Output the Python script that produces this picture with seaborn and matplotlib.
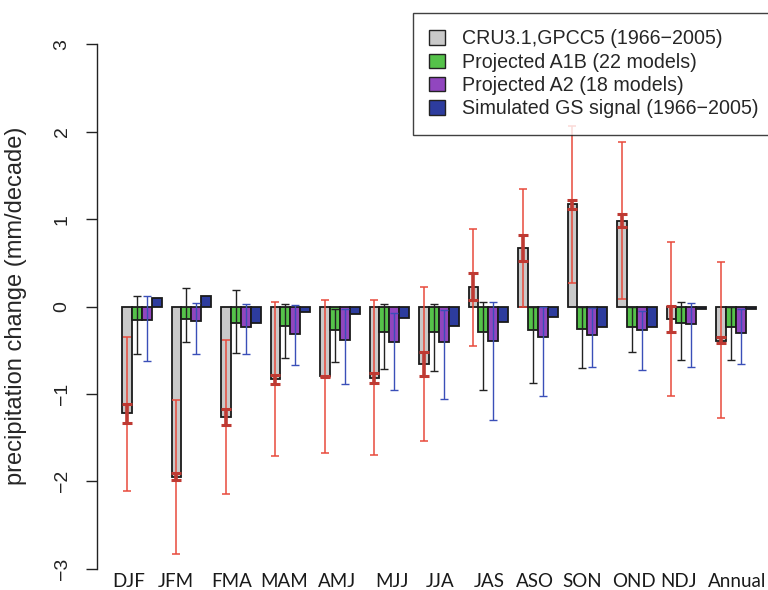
import numpy as np
import pandas as pd
import matplotlib
matplotlib.use("Agg")
import matplotlib.pyplot as plt
import seaborn as sns

seasons = ["DJF", "JFM", "FMA", "MAM", "AMJ", "MJJ", "JJA", "JAS", "ASO", "SON", "OND", "NDJ", "Annual"]
series = ["CRU3.1,GPCC5 (1966\u22122005)", "Projected A1B (22 models)",
          "Projected A2 (18 models)", "Simulated GS signal (1966\u22122005)"]

obs = [-1.22, -1.95, -1.26, -0.83, -0.80, -0.82, -0.66, 0.22, 0.665, 1.17, 0.98, -0.14, -0.39]
a1b = [-0.155, -0.143, -0.19, -0.22, -0.27, -0.29, -0.295, -0.29, -0.27, -0.26, -0.24, -0.185, -0.24]
a2 = [-0.155, -0.16, -0.24, -0.315, -0.38, -0.41, -0.41, -0.39, -0.35, -0.33, -0.27, -0.20, -0.30]
gs = [0.094, 0.12, -0.185, -0.06, -0.086, -0.135, -0.22, -0.18, -0.115, -0.23, -0.23, -0.03, -0.03]

# observed outer range (light red)
obs_lo = [-2.11, -2.83, -2.14, -1.71, -1.68, -1.70, -1.54, -0.45, 0.00, 0.27, 0.09, -1.02, -1.28]
obs_hi = [-0.35, -1.07, -0.38, 0.055, 0.075, 0.07, 0.22, 0.89, 1.34, 2.06, 1.88, 0.74, 0.505]
# observed inner range (dark red)
obs_in_lo = [-1.33, -1.99, -1.35, -0.89, -0.81, -0.87, -0.80, 0.07, 0.52, 1.12, 0.91, -0.295, -0.42]
obs_in_hi = [-1.12, -1.91, -1.17, -0.78, -0.79, -0.76, -0.52, 0.38, 0.82, 1.22, 1.055, 0.01, -0.345]
# A1B model range (black)
a1b_lo = [-0.54, -0.41, -0.53, -0.59, -0.63, -0.71, -0.74, -0.96, -0.88, -0.70, -0.52, -0.61, -0.61]
a1b_hi = [0.12, 0.21, 0.19, 0.03, -0.03, 0.03, 0.03, 0.05, 0.0, 0.0, 0.0, 0.05, -0.01]
# A2 model range (blue)
a2_lo = [-0.62, -0.54, -0.54, -0.67, -0.89, -0.955, -1.06, -1.30, -1.02, -0.69, -0.73, -0.69, -0.66]
a2_hi = [0.12, 0.04, 0.025, 0.02, -0.03, -0.07, -0.04, 0.055, 0.0, -0.02, -0.055, 0.035, -0.03]

yticks = [-3, -2, -1, 0, 1, 2, 3]
colors = ["#c9c9c9", "#55c24a", "#9146bf", "#2d3c9e"]

df = pd.DataFrame({
    "season": np.repeat(seasons, 4),
    "series": series * len(seasons),
    "value": np.ravel(np.column_stack([obs, a1b, a2, gs])),
})

sns.set_style("white")
plt.rcParams["font.family"] = ["Liberation Sans", "DejaVu Sans"]

fig = plt.figure(figsize=(7.68, 5.90), dpi=100)
ax = fig.add_axes([97 / 768, 1 - 574 / 590, 671 / 768, (574 - 23.3) / 590])

sns.barplot(data=df, x="season", y="value", hue="series", order=seasons,
            hue_order=series, palette=colors, width=0.8, dodge=True,
            edgecolor="#1a1a1a", linewidth=1.3, saturation=1, ax=ax, legend=True)

def centers(container):
    return np.array([p.get_x() + p.get_width() / 2 for p in container.patches])

def rng(ax, x, lo, hi, color, lw, cap, capthick):
    lo = np.array(lo); hi = np.array(hi)
    mid = (lo + hi) / 2
    half = (hi - lo) / 2
    ax.errorbar(x, mid, yerr=half, fmt="none", ecolor=color, elinewidth=lw,
                capsize=cap, capthick=capthick, zorder=5)

x_obs = centers(ax.containers[0])
x_a1b = centers(ax.containers[1])
x_a2 = centers(ax.containers[2])

rng(ax, x_obs, obs_lo, obs_hi, "#e84a3c", 1.1, 3.0, 1.1)
rng(ax, x_obs, obs_in_lo, obs_in_hi, "#bf3a33", 2.6, 3.5, 2.2)
rng(ax, x_a1b, a1b_lo, a1b_hi, "#222222", 1.0, 3.0, 1.0)
rng(ax, x_a2, a2_lo, a2_hi, "#3a4fb8", 1.0, 3.0, 1.0)

ax.set_xlim(-0.905, 12.65)
ax.set_ylim(-3.06, 3.24)

for s in ["top", "right", "bottom"]:
    ax.spines[s].set_visible(False)
ax.spines["left"].set_bounds(-3, 3)
ax.spines["left"].set_linewidth(1.0)
ax.spines["left"].set_color("#222222")

ax.set_yticks(yticks)
ax.set_yticklabels([str(t).replace("-", "\u2212") for t in yticks], rotation=90,
                   va="center", fontsize=14)
ax.tick_params(axis="y", direction="out", length=8, width=1.0, pad=11, colors="#222222",
               left=True)

label_px = [128.7, 176, 232, 284.5, 337, 391.5, 440, 489, 535, 582.5, 633.5, 678.5, 737]
ax.set_xticks([(p - 141.8) / 49.5 for p in label_px])
ax.set_xticklabels(seasons, fontsize=13.5, family=["Lato", "DejaVu Sans"])
ax.tick_params(axis="x", length=0, pad=-1, colors="#1a1a1a")
ax.set_xlabel("")
ax.set_ylabel("precipitation change (mm/decade)", fontsize=17)
ax.yaxis.set_label_coords(27 / 768, 1 - 306 / 590, transform=fig.transFigure)

leg = ax.legend(loc="upper left", bbox_to_anchor=(412.7 / 768, 1 - 12.7 / 590),
                bbox_transform=fig.transFigure, fontsize=14.1, frameon=True,
                fancybox=False, edgecolor="#111111", handlelength=0.8,
                handleheight=0.75, handletextpad=0.85, labelspacing=0.22,
                borderpad=0.85, borderaxespad=0)
leg.get_frame().set_linewidth(1.0)
for h in leg.legend_handles:
    h.set_edgecolor("#222222")
    h.set_linewidth(1.0)

fig.savefig("out.png", dpi=100)
